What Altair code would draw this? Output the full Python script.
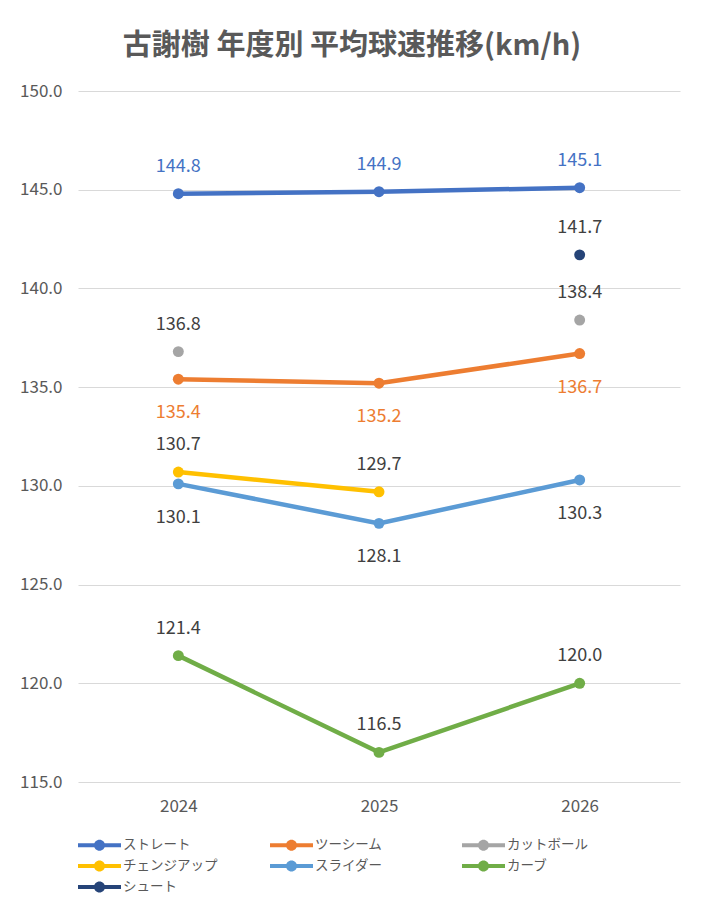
import altair as alt
import pandas as pd

years = ["2024", "2025", "2026"]
series = ["ストレート", "ツーシーム", "カットボール", "チェンジアップ", "スライダー", "カーブ", "シュート"]
straight = [144.8, 144.9, 145.1]
twoseam = [135.4, 135.2, 136.7]
cutter = [136.8, None, 138.4]
changeup = [130.7, 129.7, None]
slider = [130.1, 128.1, 130.3]
curve = [121.4, 116.5, 120.0]
shoot = [None, None, 141.7]
values = [straight, twoseam, cutter, changeup, slider, curve, shoot]

colors = ["#4472C4", "#ED7D31", "#A5A5A5", "#FFC000", "#5B9BD5", "#70AD47", "#264478"]
below = ["ツーシーム", "スライダー"]

rows = []
for s, vals in zip(series, values):
    for i, (y, v) in enumerate(zip(years, vals)):
        if v is None:
            continue
        prev_ok = i > 0 and vals[i - 1] is not None
        next_ok = i < len(vals) - 1 and vals[i + 1] is not None
        rows.append({"series": s, "year": y, "v": v, "inline": prev_ok or next_ok,
                     "pos": "below" if s in below else "above"})
df = pd.DataFrame(rows)

FONT = "Noto Sans CJK JP"

x = alt.X("year:O", scale=alt.Scale(type="point", padding=0.5), title=None,
          axis=alt.Axis(labelAngle=0, domain=False, ticks=False, labelPadding=16,
                        labelFontSize=17, labelColor="#595959", labelFont=FONT, grid=False))
y = alt.Y("v:Q", scale=alt.Scale(domain=[115, 150], nice=False, zero=False), title=None,
          axis=alt.Axis(values=[115, 120, 125, 130, 135, 140, 145, 150], format=".1f",
                        domain=False, ticks=False, labelPadding=16, labelFontSize=17,
                        labelColor="#595959", labelFont=FONT, gridColor="#D9D9D9", gridWidth=1.2))
color_scale = alt.Scale(domain=series, range=colors)

sym = "M-2.15,-0.2H2.15V0.2H-2.15Z M0.55,0 A0.55,0.55 0 1,1 -0.55,0 A0.55,0.55 0 1,1 0.55,0 Z"
legend = alt.Legend(title=None, orient="none", legendX=11.5, legendY=744, direction="horizontal",
                    columns=3, gridAlign="all", columnPadding=52, rowPadding=4,
                    symbolType=sym, symbolSize=400, symbolStrokeWidth=0,
                    symbolFillColor="#888", symbolOpacity=1, labelFontSize=13.5,
                    labelColor="#595959", labelFont=FONT, labelOffset=13.5, labelLimit=200)
color = alt.Color("series:N", scale=color_scale, sort=series, legend=legend)

base = alt.Chart(df)

lines = base.transform_filter("datum.inline").mark_line(strokeWidth=4.5).encode(
    x=x, y=y, color=color, detail="series:N")

points = base.mark_circle(size=120, opacity=1).encode(x=x, y=y, color=color)

label_color = alt.ColorValue(value="#404040", condition=[
    {"test": "datum.series === 'ストレート'", "value": "#4472C4"},
    {"test": "datum.series === 'ツーシーム'", "value": "#ED7D31"},
])

labels_above = base.transform_filter("datum.pos === 'above'").mark_text(
    dy=-27, baseline="middle", fontSize=18, font=FONT).encode(
    x=x, y=y, text=alt.Text("v:Q", format=".1f"), color=label_color)
labels_below = base.transform_filter("datum.pos === 'below'").mark_text(
    dy=34, baseline="middle", fontSize=18, font=FONT).encode(
    x=x, y=y, text=alt.Text("v:Q", format=".1f"), color=label_color)

chart = alt.layer(lines, points, labels_above, labels_below).properties(
    width=602, height=691, background="white",
    title=alt.TitleParams("古謝樹 年度別 平均球速推移(km/h)", fontSize=29, font=FONT,
                          color="#595959", fontWeight="bold", anchor="middle", dx=-27, offset=21),
    autosize=alt.AutoSizeParams(type="none"),
    padding={"left": 70, "top": 83, "right": 17, "bottom": 113},
).configure_view(stroke=None)

chart.save("out.html", embed_options={"renderer": "svg", "actions": False})
